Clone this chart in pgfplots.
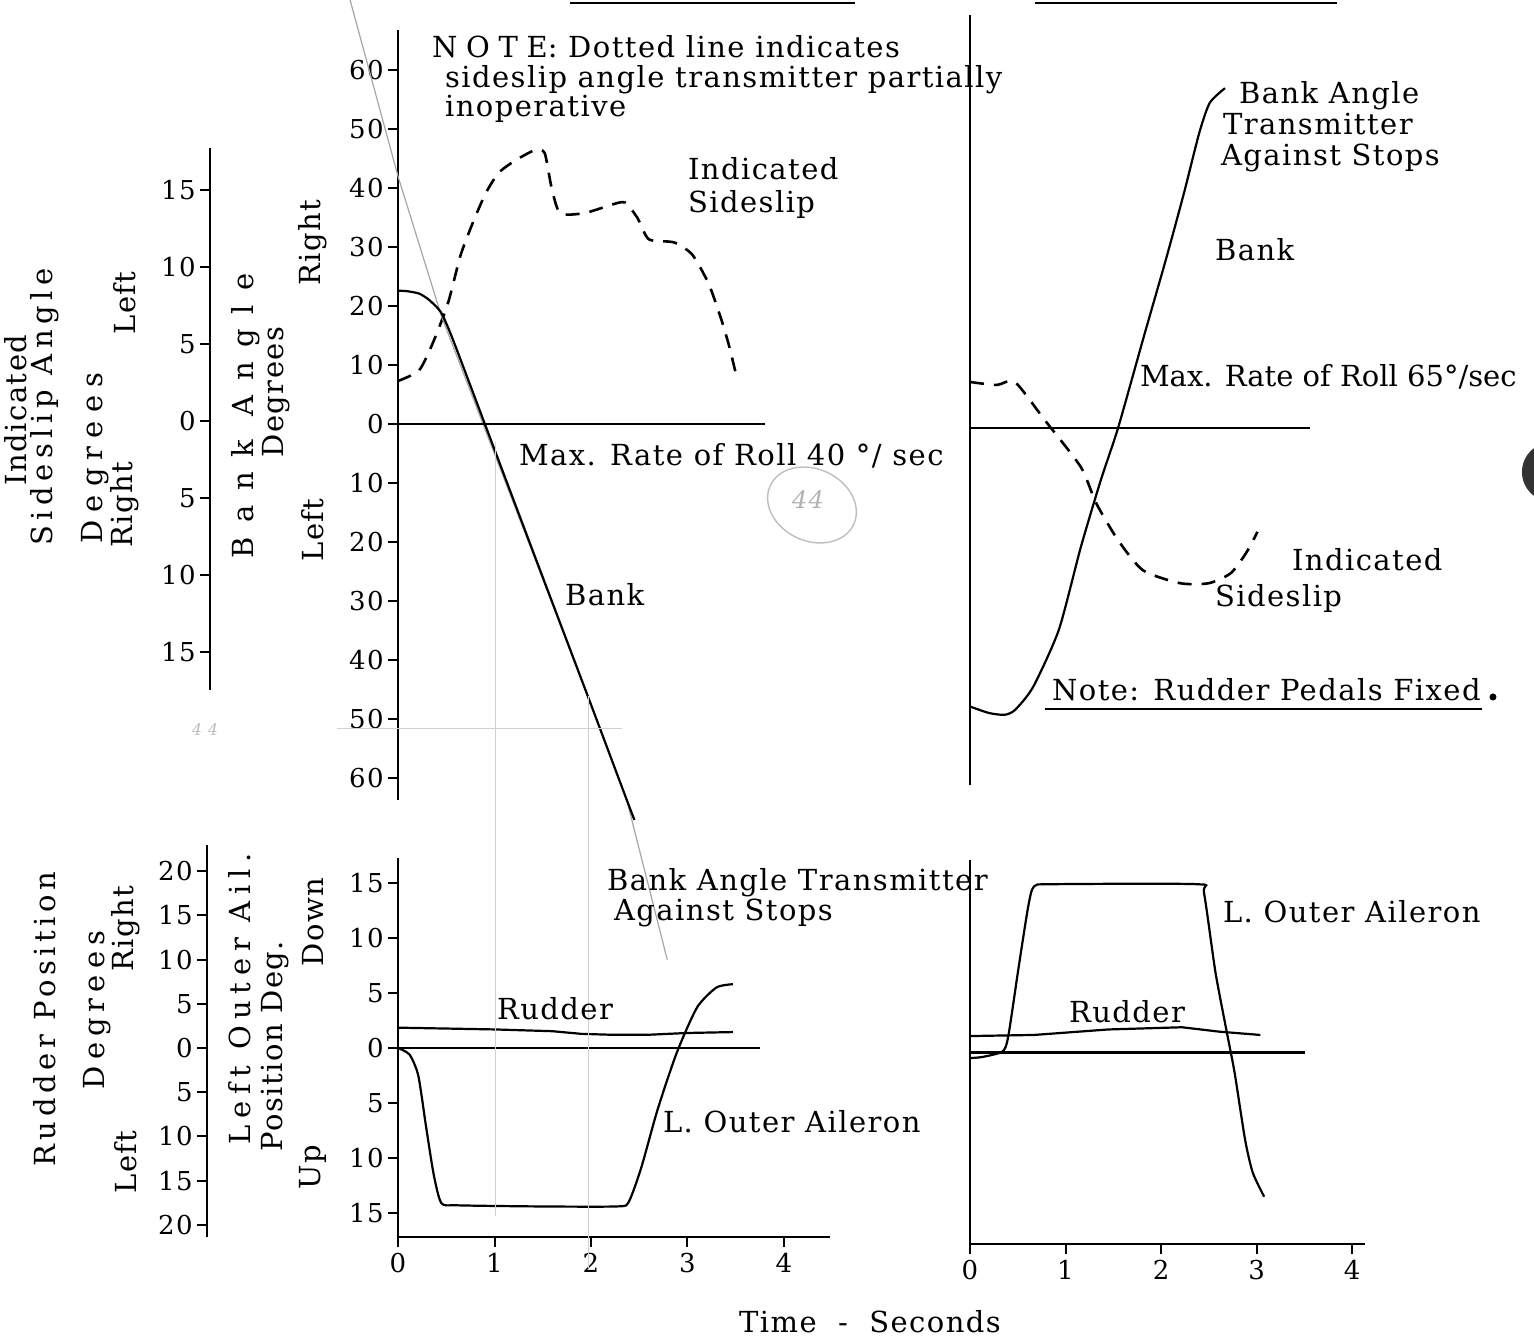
\documentclass[border=0pt]{standalone}
\usepackage{fontspec}
\setmainfont{DejaVu Serif}[LetterSpace=5]
\usepackage{pgfplots}
\pgfplotsset{compat=1.18}

\newcommand\tf{\fontsize{14.5bp}{17bp}\selectfont}
\newcommand\tkf{\fontsize{13bp}{15bp}\selectfont}
\newcommand\lsp[1]{\addfontfeature{LetterSpace=#1}}

% one panel = one axis box, placed by its lower left corner (1 px of the scan = 0.5bp)
\pgfplotsset{
  panel/.style={
    scale only axis, anchor=south west, clip=false,
    axis line style={line width=1.2bp, black},
    tick style={black, line width=1bp},
    major tick length=5bp, tick align=outside,
    ytick pos=left, xtick pos=bottom,
    ticklabel style={font=\tkf},
    yticklabel style={inner sep=2bp},
    xticklabel style={inner sep=3bp},
  },
  dashedline/.style={black, line width=1.3bp, dash pattern=on 7bp off 5bp, smooth, tension=0.4},
  solidline/.style={black, line width=1.1bp, smooth, tension=0.4},
}

\begin{document}
\begin{tikzpicture}
\useasboundingbox (0,0) rectangle (767bp,-670.5bp);
\fill[white] (0,0) rectangle (767bp,-670.5bp);

% ---------- top left: sideslip scale (x in seconds, 0 at the bank axis)
\begin{axis}[panel, at={(105bp,-345bp)}, width=277.5bp, height=271bp,
  xmin=-1.948, xmax=3.803, ymin=-17.47, ymax=17.73,
  axis x line=none, axis y line*=left,
  ytick={-15,-10,...,15}, yticklabels={15,10,5,0,5,10,15}]
\addplot[dashedline] coordinates {
  (0,2.6) (0.22,3.3) (0.37,5.2) (0.52,7.7) (0.65,10.8) (0.79,13.1) (0.91,14.8)
  (1.04,16.1) (1.21,16.9) (1.42,17.6) (1.52,17.4) (1.59,15.2) (1.68,13.5)
  (1.93,13.5) (2.19,14.0) (2.35,14.2) (2.48,13.2) (2.60,11.8) (2.86,11.6)
  (3.05,10.8) (3.22,8.9) (3.35,6.6) (3.43,4.9) (3.50,3.1)};
\end{axis}

% ---------- top left: bank angle
\begin{axis}[panel, at={(199bp,-400bp)}, width=183.5bp, height=385bp,
  xmin=0, xmax=3.803, ymin=-63.73, ymax=66.78,
  axis x line=none, axis y line*=left,
  ytick={-60,-50,...,60}, yticklabels={60,50,40,30,20,10,0,10,20,30,40,50,60}]
% pencil line drawn over the record
\addplot[black!35, line width=0.6bp] coordinates {
  (-0.497,71.9) (0,42) (0.45,18.3) (1.98,-46.7) (2.37,-63.7) (2.79,-90.8)};
\addplot[black, line width=1.2bp] coordinates {(0,0) (3.8,0)};
\addplot[solidline] coordinates {
  (0,22.6) (0.1,22.5) (0.22,22.1) (0.31,21.2) (0.39,20.0) (0.45,18.8)
  (0.52,16.3) (0.6,13.0) (0.9,0) (1.51,-26.4) (1.98,-46.7) (2.37,-63.7) (2.45,-67.1)};
\end{axis}

% ---------- top right: bank and sideslip
\begin{axis}[panel, at={(485bp,-392.5bp)}, width=170bp, height=385bp,
  xmin=0, xmax=3.56, ymin=-60.5, ymax=70,
  axis x line=none, axis y line*=left, ytick=\empty]
\addplot[black, line width=1.2bp] coordinates {(0,0) (3.56,0)};
\addplot[solidline] coordinates {
  (0,-47.2) (0.2,-48.3) (0.36,-48.6) (0.47,-47.8) (0.66,-43.9) (0.93,-34.2)
  (1.16,-20.2) (1.37,-8.8) (1.55,0) (1.82,15.5) (2.05,28.5) (2.24,39.8)
  (2.40,50) (2.51,55.1) (2.67,57.6)};
\addplot[dashedline] coordinates {
  (0,7.8) (0.28,7.3) (0.47,7.8) (0.78,1.4) (1.16,-6.6) (1.32,-12.7) (1.55,-19.0)
  (1.81,-24.1) (2.20,-26.3) (2.50,-26.3) (2.73,-24.6) (2.89,-21.2) (3.01,-17.6)};
\end{axis}

% ---------- bottom left: rudder scale
\begin{axis}[panel, at={(103.5bp,-618.5bp)}, width=311.5bp, height=196bp,
  xmin=-1.979, xmax=4.477, ymin=-21.38, ymax=22.96,
  axis x line=none, axis y line*=left,
  ytick={-20,-15,...,20}, yticklabels={20,15,10,5,0,5,10,15,20}]
\addplot[black, line width=1.1bp] coordinates {
  (0,2.3) (0.5,2.2) (1.0,2.1) (1.6,1.9) (1.9,1.6) (2.2,1.5) (2.6,1.5) (3.0,1.7) (3.47,1.8)};
\end{axis}

% ---------- bottom left: outer aileron
\begin{axis}[panel, at={(199bp,-618.5bp)}, width=216bp, height=189.5bp,
  xmin=0, xmax=4.477, ymin=-17.18, ymax=17.27,
  axis x line*=bottom, axis y line*=left,
  xtick={0,1,2,3,4}, xticklabels={0,1,2,3,4},
  ytick={-15,-10,...,15}, yticklabels={15,10,5,0,5,10,15}]
\addplot[black, line width=1.2bp] coordinates {(0,0) (3.75,0)};
\addplot[solidline] coordinates {
  (0,0) (0.12,-0.6) (0.21,-2.5) (0.29,-7.1) (0.37,-11.5) (0.45,-14.1) (0.62,-14.3)
  (1.45,-14.4) (2.27,-14.4) (2.39,-14.0) (2.52,-10.9) (2.69,-5.6) (2.89,-0.4)
  (3.10,3.7) (3.30,5.5) (3.47,5.8)};
\end{axis}

% ---------- bottom right: outer aileron and rudder
\begin{axis}[panel, at={(485bp,-622bp)}, width=197.5bp, height=192bp,
  xmin=0, xmax=4.136, ymin=-17.4, ymax=17.5,
  axis x line*=bottom, axis y line*=left,
  xtick={0,1,2,3,4}, xticklabels={0,1,2,3,4}, ytick=\empty]
\addplot[black, line width=1.2bp] coordinates {(0,0) (3.51,0)};
\addplot[black, line width=1.1bp] coordinates {
  (0,1.5) (0.67,1.6) (1.45,2.1) (2.22,2.3) (2.61,1.9) (3.04,1.6)};
\addplot[solidline] coordinates {
  (0,-0.5) (0.13,-0.4) (0.34,0.1) (0.40,1.45) (0.51,7.8) (0.61,13.3) (0.67,15.1)
  (0.86,15.3) (2.38,15.3) (2.45,14.5) (2.57,7.3) (2.69,1.8) (2.77,-1.8)
  (2.88,-7.9) (2.96,-10.9) (3.08,-13.1)};
\end{axis}

% ---------- lettering (coordinates in scan pixels)
\begin{scope}[x=0.5bp, y=-0.5bp, font=\tf]
\draw[line width=1bp] (570,3) -- (855,3);
\draw[line width=1bp] (1035,3) -- (1337,3);
\draw[black!18, line width=0.5bp] (496,442) -- (496,1216);
\draw[black!18, line width=0.5bp] (589,696) -- (589,1268);
\draw[black!18, line width=0.5bp] (337,729) -- (622,729);

\node[anchor=base west] at (425,57) {{\lsp{30}NOTE}: Dotted line indicates};
\node[anchor=base west] at (438,88) {sideslip angle transmitter partially};
\node[anchor=base west] at (438,117) {inoperative};
\node[anchor=base west] at (681,180) {Indicated};
\node[anchor=base west] at (681,213) {Sideslip};
\node[anchor=base west] at (512,466) {Max. Rate of Roll 40 °/ sec};
\node[anchor=base west] at (558,606) {Bank};
\node[anchor=base west] at (600,891) {Bank Angle Transmitter};
\node[anchor=base west] at (607,921) {Against Stops};
\node[anchor=base west] at (490,1020) {Rudder};
\node[anchor=base west] at (656,1133) {L. Outer Aileron};

\node[anchor=base west] at (1232,104) {Bank Angle};
\node[anchor=base west] at (1216,135) {Transmitter};
\node[anchor=base west] at (1214,166) {Against Stops};
\node[anchor=base west] at (1208,261) {Bank};
\node[anchor=base west] at (1133,387) {\lsp{0}Max. Rate of Roll 65°/sec};
\node[anchor=base west] at (1285,571) {Indicated};
\node[anchor=base west] at (1208,607) {Sideslip};
\node[anchor=base west] at (1045,701) {Note: Rudder Pedals Fixed};
\draw[line width=1.1bp] (1045,709) -- (1482,709);
\fill (1493,697) circle (3.5);
\node[anchor=base west] at (1216,923) {L. Outer Aileron};
\node[anchor=base west] at (1062,1023) {Rudder};
\node[anchor=base] at (870,1333) {Time\ \ -\ \ Seconds};

\node[rotate=90] at (16,410) {Indicated};
\node[rotate=90] at (45,407) {\lsp{19}Sideslip Angle};
\node[rotate=90] at (95,458) {\lsp{28}Degrees};
\node[rotate=90] at (125,505) {Right};
\node[rotate=90] at (125,303) {Left};
\node[rotate=90] at (246,416) {\lsp{50}Bank Angle};
\node[rotate=90] at (276,392) {Degrees};
\node[rotate=90] at (313,243) {Right};
\node[rotate=90] at (313,530) {Left};

\node[rotate=90] at (45,1019) {\lsp{16}Rudder Position};
\node[rotate=90] at (97,1010) {\lsp{21}Degrees};
\node[rotate=90] at (126,929) {Right};
\node[rotate=90] at (126,1162) {Left};
\node[rotate=90] at (240,999) {\lsp{23}Left Outer Ail.};
\node[rotate=90] at (275,1046) {Position Deg.};
\node[rotate=90] at (313,922) {Down};
\node[rotate=90] at (313,1167) {Up};

% pencilled page number and punch hole
\draw[black!25, line width=0.7bp, rotate around={-25:(812,505)}] (812,505) ellipse (46 and 36);
\node[black!30, font=\fontsize{12bp}{14bp}\itshape] at (808,500) {44};
\node[black!25, font=\fontsize{8bp}{9bp}\itshape] at (205,730) {4 4};
\fill[black!80] (1552,472) circle (30);
\end{scope}
\end{tikzpicture}
\end{document}
